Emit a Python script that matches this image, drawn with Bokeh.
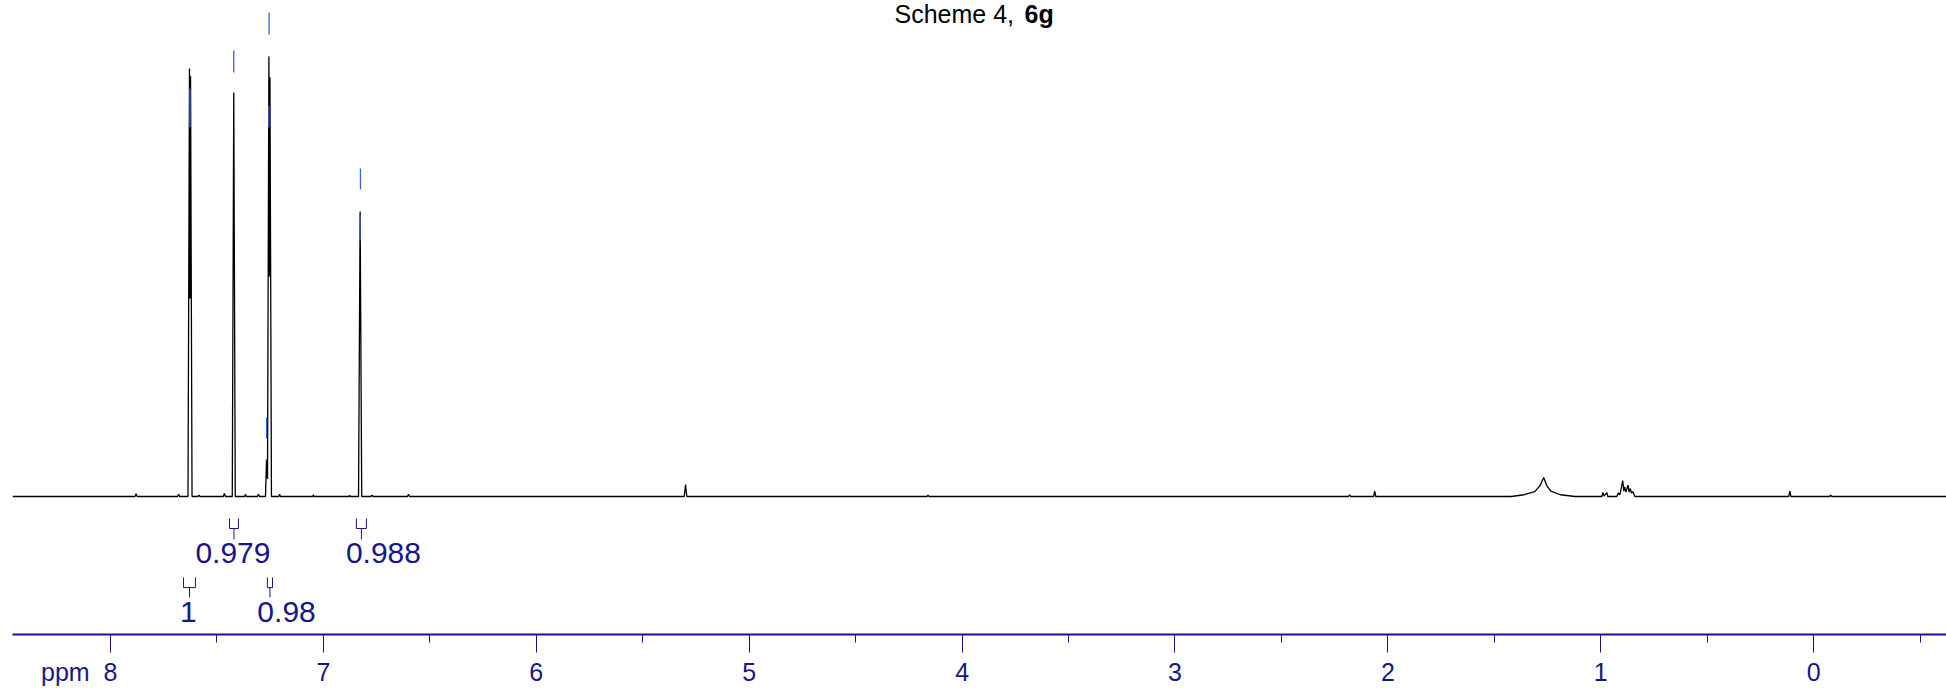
from bokeh.plotting import figure
from bokeh.models import Range1d, FixedTicker, Label, ColumnDataSource
from bokeh.embed import file_html
from bokeh.resources import INLINE
from bokeh.core.properties import value

# ---------------- data ----------------
# spectrum vertices (chemical shift in ppm, relative intensity)
ppm = [8.46, 7.885, 7.88, 7.875, 7.685, 7.68, 7.675,
       7.636, 7.629, 7.6265, 7.624, 7.617,
       7.59, 7.585, 7.58, 7.47, 7.465, 7.46,
       7.428, 7.421, 7.414,
       7.37, 7.366, 7.362, 7.31, 7.305, 7.30,
       7.272, 7.267, 7.2625, 7.256, 7.2535, 7.251, 7.244,
       7.21, 7.206, 7.202, 7.05, 7.047, 7.044, 6.88, 6.877, 6.874,
       6.835, 6.8275, 6.82,
       6.776, 6.771, 6.766, 6.605, 6.60, 6.595,
       5.305, 5.299, 5.293, 4.165, 4.16, 4.155,
       2.185, 2.18, 2.175, 2.067, 2.062, 2.057,
       1.42, 1.36, 1.31, 1.285, 1.268, 1.255, 1.235, 1.19, 1.12,
       0.995, 0.99, 0.985, 0.972, 0.967,
       0.925, 0.918, 0.91, 0.897, 0.892, 0.888, 0.882, 0.872, 0.867, 0.861, 0.856, 0.849, 0.84,
       0.117, 0.112, 0.107, -0.075, -0.08, -0.085, -0.63]
intensity = [0.0, 0.0, 0.006, 0.0, 0.0, 0.005, 0.0,
             0.0, 0.973, 0.45, 0.955, 0.0,
             0.0, 0.003, 0.0, 0.0, 0.007, 0.0,
             0.0, 0.918, 0.0,
             0.0, 0.005, 0.0, 0.0, 0.005, 0.0,
             0.0, 0.084, 0.04, 1.0, 0.5, 0.953, 0.0,
             0.0, 0.005, 0.0, 0.0, 0.004, 0.0, 0.0, 0.003, 0.0,
             0.0, 0.648, 0.0,
             0.0, 0.003, 0.0, 0.0, 0.005, 0.0,
             0.0, 0.027, 0.0, 0.0, 0.003, 0.0,
             0.0, 0.004, 0.0, 0.0, 0.012, 0.0,
             0.0, 0.004, 0.011, 0.025, 0.043, 0.026, 0.012, 0.004, 0.0,
             0.0, 0.009, 0.001, 0.009, 0.0,
             0.0, 0.008, 0.004, 0.036, 0.012, 0.022, 0.010, 0.026, 0.010, 0.018, 0.008, 0.011, 0.0,
             0.0, 0.012, 0.0, 0.0, 0.003, 0.0, 0.0]

# integrals
int_labels = ["1", "0.979", "0.98", "0.988"]
int_from = [7.657, 7.441, 7.263, 6.845]
int_to = [7.601, 7.399, 7.239, 6.798]
int_row = [1, 0, 1, 0]
int_label_ppm = [7.634, 7.425, 7.173, 6.718]

# peak-pick markers (blue)
pick_ppm = [7.627, 7.421, 7.255, 7.256, 7.267, 6.826, 6.828]
pick_top = [0.927, 1.0136, 1.10, 0.8886, 0.1795, 0.7455, 0.6386]
pick_bottom = [0.839, 0.9636, 1.05, 0.8386, 0.1318, 0.6977, 0.5818]

major_ticks = [0, 1, 2, 3, 4, 5, 6, 7, 8]
minor_ticks = [-0.5, 0.5, 1.5, 2.5, 3.5, 4.5, 5.5, 6.5, 7.5]

title_text = "Scheme 4, "
title_bold = "6g"
axis_unit = "ppm"

# ---------------- styling ----------------
NAVY = "#16168a"
BLUE = "#3b62dc"
FONT = "Liberation Sans"
NBSP = "\u00a0"

p = figure(width=1946, height=688, output_backend="svg", toolbar_location=None,
           x_range=Range1d(8.4603, -0.6238), y_range=Range1d(-0.31364, 1.12727),
           y_axis_location=None, min_border_left=12, min_border_right=0,
           min_border_top=0, min_border_bottom=54)
p.outline_line_color = None
p.grid.visible = False
p.background_fill_color = "white"
p.border_fill_color = "white"

ax = p.xaxis[0]
ax.ticker = FixedTicker(ticks=major_ticks, minor_ticks=minor_ticks)
ax.axis_line_color = NAVY
ax.axis_line_width = 2
ax.major_tick_line_color = NAVY
ax.major_tick_line_width = 1
ax.major_tick_out = 18
ax.major_tick_in = 0
ax.minor_tick_line_color = NAVY
ax.minor_tick_line_width = 1
ax.minor_tick_out = 8
ax.minor_tick_in = 0
ax.major_label_text_font = FONT
ax.major_label_text_font_size = "25px"
ax.major_label_text_color = NAVY
ax.major_label_standoff = 5
# unit shown left of the first tick label; right padding keeps the digit centred on its tick
first = max(major_ticks)
ax.major_label_overrides = {first: axis_unit + NBSP * 2 + str(first) + NBSP * 9}

# spectrum
p.line(ppm, intensity, line_color="black", line_width=1.3)

# peak pick markers
p.segment(x0=pick_ppm, y0=pick_bottom, x1=pick_ppm, y1=pick_top,
          line_color=BLUE, line_width=1.3)

# integral brackets
row_top = [-0.05, -0.184]
row_mid = [-0.0727, -0.207]
row_bot = [-0.0977, -0.2295]
row_center = [-0.1284, -0.2636]
xs, ys = [], []
for a, b, r in zip(int_from, int_to, int_row):
    c = (a + b) / 2
    xs.append([a, a, b, b]); ys.append([row_top[r], row_mid[r], row_mid[r], row_top[r]])
    xs.append([c, c]); ys.append([row_mid[r], row_bot[r]])
p.multi_line(xs, ys, line_color=NAVY, line_width=1)

src = ColumnDataSource(dict(x=int_label_ppm, y=[row_center[r] for r in int_row], t=int_labels))
p.text(x="x", y="y", text="t", source=src, text_font=value(FONT), text_font_size="30px",
       text_color=NAVY, text_align="center", text_baseline="middle")

# title
p.add_layout(Label(x=4.3175, y=1.0977, text=title_text, text_font=FONT,
                   text_font_size="25px", text_color="black", text_align="left",
                   text_baseline="middle"))
p.add_layout(Label(x=3.7069, y=1.0977, text=title_bold, text_font=FONT,
                   text_font_size="25px", text_font_style="bold", text_color="black",
                   text_align="left", text_baseline="middle"))

open("out.html", "w").write(file_html(p, INLINE))
